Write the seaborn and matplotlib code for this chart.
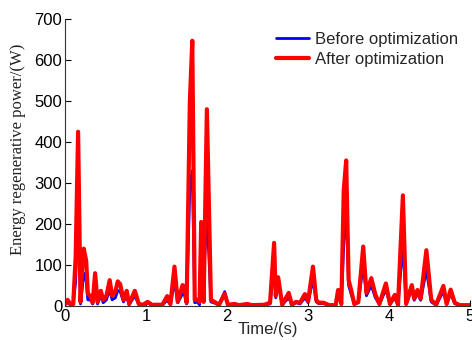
import pandas as pd
import matplotlib
matplotlib.use("Agg")
import matplotlib.pyplot as plt
import seaborn as sns

# key points (time in s, power in W)
time_s = [0.00, 0.03, 0.07, 0.10, 0.13, 0.16, 0.19, 0.21, 0.23, 0.26, 0.28, 0.31, 0.34,
          0.37, 0.40, 0.44, 0.47, 0.51, 0.55, 0.58, 0.62, 0.65, 0.68, 0.72, 0.76, 0.79,
          0.86, 0.91, 0.96, 1.02, 1.07, 1.20, 1.26, 1.30, 1.35, 1.39, 1.45, 1.47, 1.50,
          1.54, 1.57, 1.60, 1.63, 1.66, 1.68, 1.71, 1.75, 1.80, 1.86, 1.90, 1.97, 2.01,
          2.09, 2.15, 2.25, 2.30, 2.46, 2.53, 2.58, 2.60, 2.63, 2.68, 2.76, 2.80, 2.85,
          2.90, 2.96, 3.00, 3.06, 3.10, 3.13, 3.19, 3.26, 3.34, 3.37, 3.41, 3.44, 3.47,
          3.50, 3.53, 3.57, 3.62, 3.68, 3.72, 3.78, 3.83, 3.88, 3.96, 4.01, 4.07, 4.11,
          4.17, 4.21, 4.28, 4.31, 4.35, 4.39, 4.46, 4.52, 4.58, 4.67, 4.71, 4.76, 4.81,
          4.87, 5.00]

before = [3, 8, 2, 3, 60, 245, 5, 40, 80, 60, 15, 15, 5,
          50, 5, 25, 8, 15, 40, 15, 20, 38, 35, 10, 25, 3,
          25, 3, 2, 7, 2, 2, 14, 3, 60, 8, 30, 30, 5,
          290, 330, 8, 10, 3, 110, 60, 230, 10, 6, 2, 35, 3,
          5, 2, 4, 2, 3, 5, 96, 20, 55, 3, 20, 3, 8,
          5, 20, 8, 65, 10, 6, 6, 2, 2, 30, 4, 150, 239,
          50, 30, 4, 8, 100, 25, 50, 20, 4, 40, 4, 20, 2,
          150, 4, 40, 14, 30, 14, 88, 10, 2, 35, 4, 30, 6,
          2, 2]

after = [5, 15, 3, 5, 120, 425, 10, 90, 140, 110, 30, 25, 8,
         80, 10, 37, 15, 25, 63, 25, 35, 60, 53, 15, 37, 5,
         37, 5, 3, 10, 3, 3, 24, 5, 96, 10, 51, 48, 8,
         500, 647, 15, 15, 10, 205, 10, 480, 15, 8, 3, 30, 3,
         5, 2, 5, 2, 3, 8, 154, 25, 70, 3, 32, 3, 10,
         8, 29, 12, 96, 15, 8, 8, 2, 2, 39, 5, 283, 355,
         63, 40, 5, 10, 145, 32, 68, 28, 5, 55, 5, 27, 3,
         270, 5, 51, 18, 39, 18, 136, 15, 3, 49, 5, 40, 8,
         2, 2]

df = pd.DataFrame({"time": time_s, "before": before, "after": after})

sns.set_style("ticks")
plt.rcParams["font.family"] = ["Liberation Sans", "DejaVu Sans"]

fig = plt.figure(figsize=(4.72, 3.40), dpi=100)
ax = fig.add_axes([0.138, 0.10, 0.858, 0.844])

sns.lineplot(data=df, x="time", y="before", ax=ax, color="#0000ff", lw=2.0,
             label="Before optimization", solid_joinstyle="round")
sns.lineplot(data=df, x="time", y="after", ax=ax, color="#ff0000", lw=3.0,
             label="After optimization", solid_joinstyle="round")

ax.set_xlim(0, 5)
ax.set_ylim(0, 700)
ax.set_xticks([0, 1, 2, 3, 4, 5])
ax.set_yticks(range(0, 701, 100))
ax.tick_params(direction="in", length=4, labelsize=12, colors="black", pad=2)
ax.set_xlabel("Time/(s)", fontsize=12, labelpad=-1)
ax.set_ylabel("Energy regenerative power/(W)", fontsize=12,
              family=["Liberation Serif", "DejaVu Serif"], color="#222222")
ax.yaxis.set_label_coords(-0.097, 0.545)
for s in ["top", "right"]:
    ax.spines[s].set_visible(False)
for s in ["left", "bottom"]:
    ax.spines[s].set_color("#333333")
    ax.spines[s].set_linewidth(0.8)

ax.legend(loc="upper right", bbox_to_anchor=(0.985, 0.925), bbox_transform=fig.transFigure,
          frameon=False, fontsize=12, handlelength=2.0, handletextpad=0.35,
          labelspacing=0.3, borderaxespad=0)

fig.savefig("out.png", dpi=100)
